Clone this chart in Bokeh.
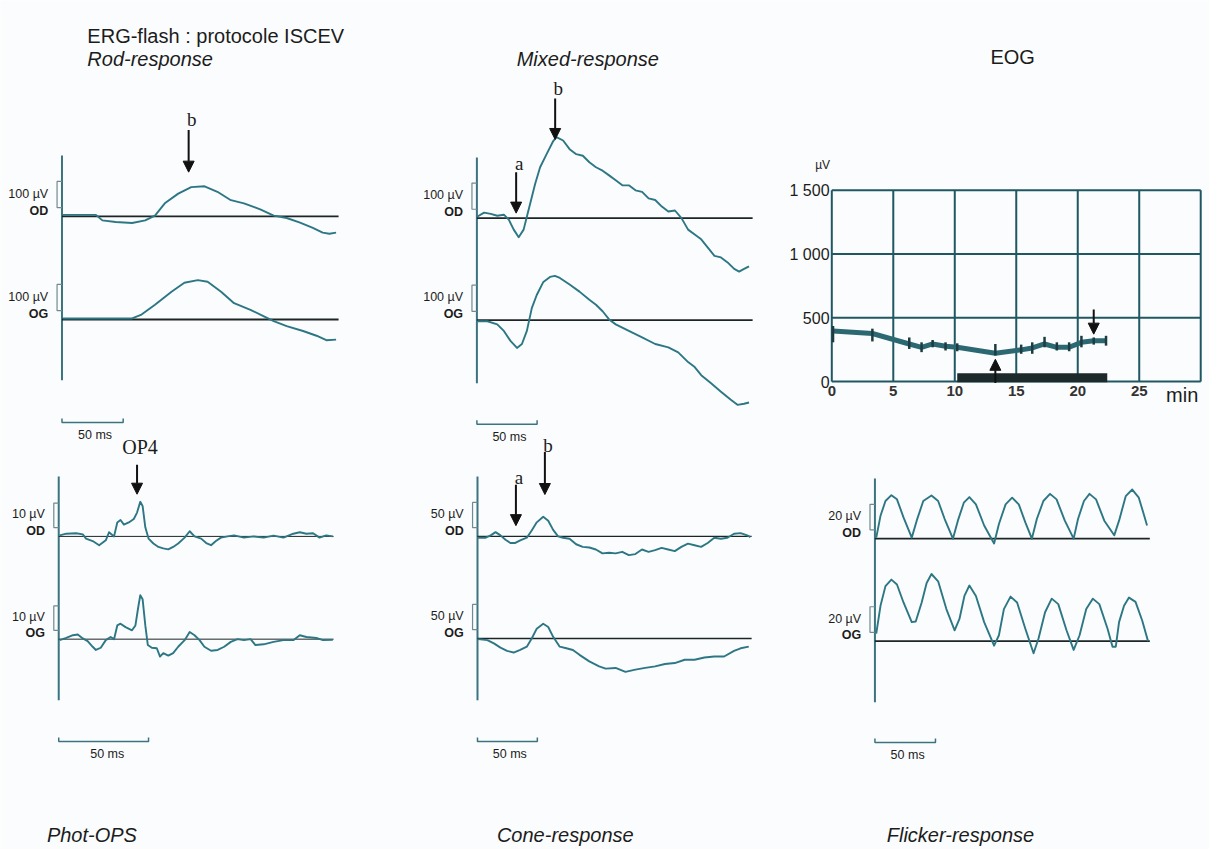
from bokeh.plotting import figure
from bokeh.models import Range1d, Label, Arrow, NormalHead
from bokeh.embed import file_html
from bokeh.resources import INLINE
from bokeh.core.properties import value

# ---------------- data (time in ms, amplitude in µV) ----------------
rod_od_t = [0.8, 27.7, 33, 43.9, 57.3, 68, 76, 84, 95, 105.6, 116.5, 127, 138, 148.7, 162, 173, 183.6, 194, 205, 213, 218.5, 224]
rod_od_v = [6, 6, -15, -21, -25, -15, 3, 50, 87, 112, 115, 94, 62, 50, 27, 3, -6, -23, -44, -62, -66, -62]
rod_og_t = [0.8, 57.3, 65, 76, 89.5, 100, 111, 119, 130, 140.6, 154, 165, 173, 183.6, 197, 208, 216, 224]
rod_og_v = [4, 4, 19, 56, 106, 140, 150, 144, 106, 62, 37, 12, -6, -25, -44, -62, -79, -77]

mix_od_t = [0.5, 6.0, 11.5, 16.9, 22.4, 26.5, 30.6, 34.7, 38.8, 42.9, 48.4, 52.5, 57.9, 63.4, 66.1, 71.6, 77.0, 82.5, 88.0, 93.4,
            98.9, 104.4, 109.8, 115.3, 120.8, 126.2, 131.7, 137.2, 142.6, 148.1, 153.6, 159.0, 164.5, 169.9, 175.4, 180.9,
            186.3, 191.8, 197.3, 202.7, 208.2, 213.7, 217.8, 221.9, 226.0]
mix_od_v = [6, 21, 16, 9, 13, -6, -44, -73, -44, 31, 131, 194, 244, 294, 309, 296, 263, 244, 238, 213,
            194, 181, 163, 144, 125, 125, 106, 100, 75, 69, 44, 25, 29, 0, -44, -63,
            -81, -113, -144, -150, -169, -194, -204, -194, -184]
mix_og_t = [0.5, 8.7, 16.9, 22.4, 27.9, 33.3, 37.4, 41.5, 45.6, 49.7, 55.2, 60.7, 64.8, 68.9, 77.0, 85.2, 93.4, 98.9,
            104.4, 109.8, 115.3, 126.2, 137.2, 148.1, 159.0, 167.2, 175.4, 180.9, 186.3, 194.5, 202.7, 210.9, 216.4, 221.9, 226.0]
mix_og_v = [-4, -4, -16, -41, -79, -106, -91, -41, 46, 96, 146, 165, 169, 161, 136, 109, 78, 59,
            34, 3, -16, -41, -66, -91, -104, -123, -160, -179, -210, -241, -273, -304, -323, -319, -314]

ops_od_t = [0.5, 4.2, 9.7, 13.4, 15.2, 18.9, 22.5, 26.2, 28.0, 30.8, 32.6, 34.4, 36.3, 39.0, 41.8, 43.6, 45.4, 46.7, 48.2,
            50.0, 52.7, 55.5, 58.2, 61.0, 63.7, 66.5, 70.1, 72.9, 75.6, 79.3, 82.1, 84.8, 87.5, 90.3, 94.0, 97.6, 103.1,
            108.6, 114.1, 119.6, 125.1, 130.6, 134.2, 137.9, 141.6, 145.2, 148.9, 152.6]
ops_od_v = [0.4, 1.1, 1.3, 0.8, -0.9, -1.9, -3.6, -1.6, 1.7, 0, 5.7, 6.7, 4.8, 5.7, 7.1, 9.7, 14.1, 12.4, 3.7,
            -0.9, -2.9, -4.3, -4.9, -5.3, -4.3, -2.9, -0.5, 2.1, 0, -0.9, -2.7, -3.6, -1.9, -0.5, 0, 0.4, -0.5,
            0, -0.5, 0.3, -0.5, 1.1, 1.7, 1.1, 1.3, -0.5, 0.4, 0]
ops_og_t = [0.5, 4.2, 7.9, 10.6, 13.4, 16.1, 18.9, 20.7, 23.4, 26.2, 28.9, 30.8, 32.6, 34.4, 37.2, 40.8, 42.7, 44.1, 45.4,
            46.7, 48.2, 49.6, 51.8, 54.6, 56.4, 58.2, 61.0, 63.7, 66.5, 70.1, 72.9, 75.6, 78.4, 81.1, 84.8, 88.5, 92.1,
            95.8, 99.5, 103.1, 106.8, 109.5, 114.1, 119.6, 125.1, 130.6, 134.2, 137.9, 143.4, 147.1, 152.6]
ops_og_v = [-0.4, 0.5, 1.6, 1.9, 0.3, -0.8, -3.1, -4.4, -3.5, -0.4, 0.9, 0, 5.6, 6.3, 4.9, 3.6, 5.6, 12.3, 17.9,
            16.3, 5.6, -2.4, -3.5, -3.7, -7.1, -5.7, -6.7, -5.7, -3.1, -0.4, 2.9, 1.6, -0.4, -3.1, -4.7, -4.4, -3.1,
            -1.1, 0, -0.4, 0, -2.4, -2.1, -1.1, -0.4, -0.4, 1.6, 0.9, 0.5, -0.4, -0.3]

cone_od_t = [0.5, 6.9, 11.0, 15.1, 19.2, 23.4, 27.5, 31.6, 35.7, 41.2, 45.3, 49.5, 54.9, 59.1, 63.2, 67.3, 71.4, 76.9,
             82.4, 87.9, 93.4, 98.9, 104.4, 109.9, 115.4, 120.9, 126.4, 131.9, 137.4, 142.9, 148.4, 153.8, 159.3,
             164.8, 170.3, 175.8, 181.3, 186.8, 192.3, 197.8, 203.3, 208.8, 214.3, 219.8, 225.3, 228.0]
cone_od_v = [-2.6, -2.6, 2.0, 8.5, 2.0, -6.5, -13.0, -13.0, -7.8, -2.6, 11.7, 27.9, 39.0, 31.2, 13.0, 0, -2.6, -4.6,
             -15.6, -20.8, -22.1, -26.0, -33.8, -32.5, -33.8, -30.6, -37.1, -35.1, -26.0, -30.6, -27.3, -22.8, -26.0,
             -29.3, -20.8, -14.3, -17.6, -20.8, -13.0, -2.6, -4.6, -2.6, 5.2, 6.5, 2.0, -1.3]
cone_og_t = [0.5, 8.2, 13.7, 19.2, 24.7, 30.2, 35.7, 41.2, 45.3, 49.5, 54.9, 59.1, 63.2, 68.7, 74.2, 79.7, 85.2, 93.4,
             101.6, 107.1, 115.4, 123.6, 131.9, 140.1, 148.4, 156.6, 164.8, 173.1, 181.3, 189.6, 197.8, 206.0, 214.3,
             219.8, 226.6]
cone_og_v = [-1.3, -3.3, -9.8, -18.2, -24.7, -27.9, -22.8, -16.3, 0, 19.5, 29.3, 22.8, 3.3, -16.3, -19.5, -22.8, -32.5,
             -45.5, -55.3, -59.8, -58.5, -66.3, -61.8, -58.5, -55.3, -50.7, -48.8, -42.3, -42.3, -37.7, -35.8, -35.8,
             -24.7, -19.5, -16.3]

flk_od_t = [1.1, 4.6, 8.7, 13.6, 18.2, 23.6, 30.4, 34.5, 39.9, 46.7, 52.2, 57.6, 64.4, 68.5, 73.4, 78.0, 83.4, 90.2,
            98.4, 102.4, 107.9, 113.3, 118.8, 124.2, 129.6, 133.7, 139.1, 144.6, 150.0, 156.8, 164.1, 167.7, 172.6,
            177.2, 182.6, 189.4, 197.6, 201.6, 207.1, 212.5, 217.9, 222.0, 224.7]
flk_od_v = [0.8, 17.9, 29.5, 34.1, 30.8, 16.7, 0.8, 14.1, 29.5, 33.8, 29.5, 15.4, 0, 14.1, 28.2, 32.6, 26.9, 10.3,
            -3.8, 11.5, 26.9, 32.1, 26.9, 12.8, 0, 15.4, 29.5, 35.1, 30.8, 14.1, 0, 15.4, 29.5,
            35.1, 30.8, 14.1, 2.6, 14.1, 33.3, 38.5, 32.1, 19.2, 10.3]
flk_og_t = [1.1, 4.6, 8.7, 13.6, 18.2, 23.6, 30.4, 33.7, 38.6, 42.7, 46.7, 52.2, 59.0, 65.8, 69.8, 73.9, 78.0, 83.4,
            90.2, 98.4, 102.4, 106.5, 112.0, 117.4, 124.2, 131.0, 135.1, 140.5, 146.0, 151.4, 158.2, 164.1, 169.0,
            174.5, 179.9, 185.3, 192.1, 196.2, 198.9, 201.6, 205.7, 209.8, 215.2, 220.7, 225.5]
flk_og_v = [5.9, 27.7, 43.1, 48.2, 44.4, 30.3, 14.9, 15.4, 30.3, 45.6, 52.6, 46.9, 25.1, 8.5, 17.4, 35.4, 43.6, 35.4,
            14.9, -3.6, 4.6, 25.1, 34.9, 30.3, 9.7, -9.5, 2.1, 22.6, 33.3, 29.0, 8.5, -6.9, 4.6,
            25.1, 33.3, 29.0, 9.7, -4.4, -4.4, 14.9, 27.7, 34.1, 30.8, 16.2, 0]

# EOG (time in min, amplitude in µV)
eog_t = [0.1, 3.3, 6.3, 7.3, 8.2, 9.25, 10.2, 13.3, 15.4, 16.3, 17.3, 18.3, 19.3, 20.3, 21.3, 22.3]
eog_v = [397, 377, 295, 269, 295, 277, 269, 223, 249, 264, 295, 269, 269, 308, 321, 321]
eog_hi = [436, 415, 346, 308, 326, 308, 300, 295, 290, 308, 351, 308, 308, 359, 346, 359]
eog_lo = [308, 315, 256, 231, 269, 244, 238, 205, 218, 218, 269, 244, 238, 269, 290, 282]
eog_light = [10.2, 22.4]
eog_xticks = [0, 5, 10, 15, 20, 25]
eog_xgrid = [0, 5, 10, 15, 20, 25, 30]
eog_yticks = [0, 500, 1000, 1500]
eog_ylabels = ["0", "500", "1 000", "1 500"]

# ---------------- figure ----------------
W, H = 1209, 849
SX = W / 1225.0   # reference layout is 1225 x 865; scale it into the canvas
SY = H / 865.0
SANS = "Liberation Sans"
SERIF = "Liberation Serif"
TXT = "#1c1c1c"
INK = "#111111"
TRACE = "#2d7785"
AXIS = "#3b7480"
BASE = "#1e2526"
BRK = "#6f8a90"
BG = "#fbfcfd"

p = figure(width=W, height=H, x_range=Range1d(0, W), y_range=Range1d(H, 0),
           x_axis_type=None, y_axis_type=None, output_backend="svg",
           toolbar_location=None, min_border=0)
p.outline_line_color = None
p.background_fill_color = BG
p.border_fill_color = BG


def X(px):
    return px * SX


def Y(py):
    return py * SY


def xr(name, x0, sx):
    c, s = x0 * SX, sx * SX
    p.extra_x_ranges = {**p.extra_x_ranges, name: Range1d(-c / s, (W - c) / s)}


def yr(name, base, sv):
    c, s = base * SY, sv * SY
    p.extra_y_ranges = {**p.extra_y_ranges, name: Range1d((c - H) / s, c / s)}


def label(x, y, text, size, align="left", style="normal", font=SANS, color=TXT, **kw):
    p.add_layout(Label(x=x, y=y, text=text, text_font=font, text_font_size=f"{size}px",
                       text_align=align, text_baseline="middle", text_font_style=style,
                       text_color=color, **kw))


def arrow(xn, yn, t, v0, v1, text=None, sv=1.0, size=19, gap=10):
    p.add_layout(Arrow(end=NormalHead(size=11, fill_color=INK, line_color=INK, line_width=1),
                       x_start=t, y_start=v0, x_end=t, y_end=v1, line_color=INK, line_width=2,
                       x_range_name=xn, y_range_name=yn))
    if text:
        label(t, v0 + gap / sv, text, size, align="center", font=SERIF,
              x_range_name=xn, y_range_name=yn, x_offset=3)


# panel layout (reference pixel positions) and their traces
panels = {
    "rod": dict(x0=62.3, sx=1.24, top=158, bot=387, end=226, bar=430, cal=100, bw=1.8,
                rows=[("OD", 220, 0.267, rod_od_t, rod_od_v), ("OG", 325, 0.267, rod_og_t, rod_og_v)]),
    "mix": dict(x0=482.7, sx=1.22, top=160, bot=390, end=229, bar=431.7, cal=100, bw=1.8,
                rows=[("OD", 221.7, 0.267, mix_od_t, mix_od_v), ("OG", 325.7, 0.267, mix_og_t, mix_og_v)]),
    "ops": dict(x0=59, sx=1.82, top=485, bot=713, end=153, bar=755, cal=10, bw=1.0,
                rows=[("OD", 546, 2.5, ops_od_t, ops_od_v), ("OG", 650.7, 2.5, ops_og_t, ops_og_v)]),
    "cone": dict(x0=483.3, sx=1.213, top=485, bot=713, end=229, bar=755, cal=50, bw=1.3,
                 rows=[("OD", 546, 0.513, cone_od_t, cone_od_v), ("OG", 650, 0.513, cone_og_t, cone_og_v)]),
    "flk": dict(x0=886, sx=1.227, top=487, bot=715, end=227, bar=756, cal=20, bw=1.6,
                rows=[("OD", 548.3, 1.3, flk_od_t, flk_od_v), ("OG", 652.7, 1.3, flk_og_t, flk_og_v)]),
}
SV = {}

for name, pn in panels.items():
    xn = name + "_x"
    xr(xn, pn["x0"], pn["sx"])
    ax = X(pn["x0"])
    axl = X(pn["x0"] - 5)
    p.line([ax, ax], [Y(pn["top"]), Y(pn["bot"])], line_color=AXIS, line_width=2)
    for lab, base, sv, t, v in pn["rows"]:
        yn = f"{name}_{lab}"
        SV[yn] = sv
        yr(yn, base, sv)
        p.line([0, pn["end"]], [0, 0], x_range_name=xn, y_range_name=yn,
               line_color=BASE, line_width=pn["bw"])
        p.line(t, v, x_range_name=xn, y_range_name=yn, line_color=TRACE, line_width=1.9,
               line_join="round")
        lo = 9 / sv
        hi = lo + pn["cal"]
        p.line([ax, axl, axl, ax], [hi, hi, lo, lo], y_range_name=yn,
               line_color=BRK, line_width=1.2)
        mid = base - 9 - pn["cal"] * sv / 2
        label(X(pn["x0"] - 14), Y(mid - 1), f"{pn['cal']} µV", 12.5, align="right")
        label(X(pn["x0"] - 14), Y(base - 6), lab, 12.5, align="right", style="bold")
    by = Y(pn["bar"])
    p.line([0, 0, 50, 50], [by - 4, by, by, by - 4], x_range_name=xn,
           line_color=AXIS, line_width=1.5)
    label(27, Y(pn["bar"] + 13), "50 ms", 12.5, align="center", x_range_name=xn)

# arrows with letters
arrow("rod_x", "rod_OD", 103.5, 330, 169, "b", SV["rod_OD"], gap=11)
arrow("mix_x", "mix_OD", 32.6, 175, 19, "a", SV["mix_OD"], gap=9)
arrow("mix_x", "mix_OD", 65, 456, 300, "b", SV["mix_OD"], gap=10)
arrow("ops_x", "ops_OD", 43.6, 29.2, 17.2, "OP4", SV["ops_OD"], size=20, gap=18)
arrow("cone_x", "cone_OD", 32.1, 102.7, 21.4, "a", SV["cone_OD"], gap=7)
arrow("cone_x", "cone_OD", 56.3, 167.6, 83.2, "b", SV["cone_OD"], gap=7)

# ---------------- EOG ----------------
xr("eog_x", 842.3, 12.46)
yr("eog_y", 388.3, 0.13)
GRID = "#1f5863"
p.segment(x0=eog_xgrid, y0=[0] * len(eog_xgrid), x1=eog_xgrid, y1=[1500] * len(eog_xgrid),
          x_range_name="eog_x", y_range_name="eog_y", line_color=GRID, line_width=2)
p.segment(x0=[0] * len(eog_yticks), y0=eog_yticks, x1=[30] * len(eog_yticks), y1=eog_yticks,
          x_range_name="eog_x", y_range_name="eog_y", line_color=GRID, line_width=2)
p.line(eog_light, [30, 30], x_range_name="eog_x", y_range_name="eog_y",
       line_color="#1c2a2c", line_width=9)
p.line(eog_t, eog_v, x_range_name="eog_x", y_range_name="eog_y",
       line_color="#2b6872", line_width=5, line_join="round")
p.segment(x0=eog_t, y0=eog_lo, x1=eog_t, y1=eog_hi, x_range_name="eog_x", y_range_name="eog_y",
          line_color="#1d3c42", line_width=2.5)
arrow("eog_x", "eog_y", 13.3, -10, 175)
arrow("eog_x", "eog_y", 21.3, 565, 372)
p.text(x=eog_xticks, y=[Y(398)] * len(eog_xticks), text=[str(v) for v in eog_xticks],
       x_range_name="eog_x", text_font=value(SANS), text_font_size="15px", text_font_style="bold",
       text_align="center", text_baseline="middle", text_color="#333333")
p.text(x=[X(840)] * len(eog_yticks), y=eog_yticks, text=eog_ylabels, y_range_name="eog_y",
       text_font=value(SANS), text_font_size="16px", text_align="right", text_baseline="middle",
       text_color=TXT)
label(X(833), Y(168), "µV", 12, align="center")
label(X(1181), Y(402), "min", 20)

# ---------------- titles ----------------
label(X(88), Y(36), "ERG-flash : protocole ISCEV", 20)
label(X(88), Y(59.5), "Rod-response", 20, style="italic")
label(X(523), Y(60), "Mixed-response", 20, style="italic")
label(X(1003), Y(57.5), "EOG", 20)
label(X(47), Y(850), "Phot-OPS", 20, style="italic")
label(X(503), Y(850), "Cone-response", 20, style="italic")
label(X(898), Y(850), "Flicker-response", 20, style="italic")

open("out.html", "w").write(file_html(p, INLINE))
